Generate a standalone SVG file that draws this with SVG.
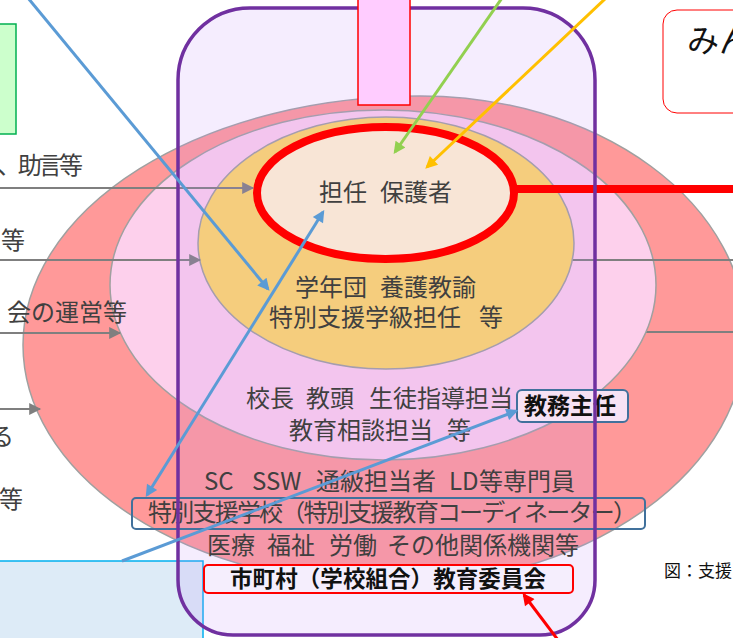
<svg xmlns="http://www.w3.org/2000/svg" width="733" height="638" viewBox="0 0 733 638">
<style>
text{font-family:"Noto Sans CJK JP","Noto Sans",sans-serif;}
.g{fill:#404040;font-size:24px;}
.side{fill:#404040;font-size:24px;}
.b{fill:#111;font-weight:bold;}
.gl{stroke:#7F7F7F;stroke-width:2;fill:none;}
.bl{stroke:#5B9BD5;stroke-width:3;fill:none;}
.ell{stroke:#A0A0A0;stroke-width:1.5;}
</style>
<defs>
<marker id="mg" viewBox="0 0 10 10" refX="9" refY="5" markerUnits="userSpaceOnUse" markerWidth="13" markerHeight="12" orient="auto-start-reverse"><path d="M0,0 L10,5 L0,10 z" fill="#7F7F7F"/></marker>
<marker id="mb" viewBox="0 0 10 10" refX="8" refY="5" markerUnits="userSpaceOnUse" markerWidth="15" markerHeight="12" orient="auto-start-reverse"><path d="M0,0 L10,5 L0,10 z" fill="#5B9BD5"/></marker>
<marker id="mgr" viewBox="0 0 10 10" refX="8" refY="5" markerUnits="userSpaceOnUse" markerWidth="15" markerHeight="12" orient="auto-start-reverse"><path d="M0,0 L10,5 L0,10 z" fill="#92D050"/></marker>
<marker id="mo" viewBox="0 0 10 10" refX="8" refY="5" markerUnits="userSpaceOnUse" markerWidth="15" markerHeight="12" orient="auto-start-reverse"><path d="M0,0 L10,5 L0,10 z" fill="#FFC000"/></marker>
<marker id="mr" viewBox="0 0 10 10" refX="8" refY="5" markerUnits="userSpaceOnUse" markerWidth="15" markerHeight="12" orient="auto-start-reverse"><path d="M0,0 L10,5 L0,10 z" fill="#FF0000"/></marker>
</defs>
<rect width="733" height="638" fill="#FFFFFF"/>

<g id="green-box"><rect x="-2" y="24" width="18" height="110" fill="#CCFFCC" stroke="#00B050" stroke-width="1.5"/></g>
<g id="blue-box"><rect x="-2" y="561" width="205" height="80" fill="#DDEBF7" stroke="#00B0F0" stroke-width="1.5"/></g>

<g id="circles">
<path id="outer" class="ell" d="M23,345 A397,249 0 0 1 420,96 A326,239 0 0 1 746,335 A356,250 0 0 1 390,585 A367,240 0 0 1 23,345 Z" fill="#FF9999"/>
<line class="gl" x1="646" y1="332" x2="740" y2="332"/>
<ellipse id="middle" class="ell" cx="383" cy="285" rx="273" ry="175" fill="#FDD0EC"/>
<line class="gl" x1="572" y1="260" x2="740" y2="260"/>
<ellipse id="inner" class="ell" cx="386" cy="243" rx="188" ry="126" fill="#FFD966"/>
</g>

<g id="grey-arrows">
<line class="gl" x1="-5" y1="188" x2="253" y2="188" marker-end="url(#mg)"/>
<line class="gl" x1="-5" y1="260" x2="200" y2="260" marker-end="url(#mg)"/>
<line class="gl" x1="-5" y1="333" x2="120" y2="333" marker-end="url(#mg)"/>
<line class="gl" x1="-5" y1="409" x2="40" y2="409" marker-end="url(#mg)"/>
</g>

<g id="side-labels">
<text class="side" x="-3" y="174" textLength="86" lengthAdjust="spacing">、助言等</text>
<text class="side" x="1" y="249">等</text>
<text class="side" x="7" y="321" font-size="23">会の運営等</text>
<text class="side" x="-10" y="445">る</text>
<text class="side" x="-1" y="508">等</text>
</g>

<g id="school-frame-fill"><path d="M250,8 H523 A72,72 0 0 1 595,80 V580 A55,55 0 0 1 540,635 H233 A55,55 0 0 1 178,580 V80 A72,72 0 0 1 250,8 Z" fill="#C092F9" fill-opacity="0.16"/></g>

<g id="core">
<line x1="515" y1="189" x2="740" y2="189" stroke="#FF0000" stroke-width="8"/>
<ellipse cx="385.5" cy="193" rx="128.5" ry="66" fill="#F8E5D6" stroke="#FF0000" stroke-width="8"/>
<text class="g" x="319" y="201">担任</text>
<text class="g" x="380" y="201">保護者</text>
</g>

<g id="layer2-text">
<text class="g" x="295" y="296">学年団</text>
<text class="g" x="380" y="296">養護教諭</text>
<text class="g" x="269" y="326">特別支援学級担任</text>
<text class="g" x="479" y="326">等</text>
</g>
<g id="layer3-text">
<text class="g" x="246" y="407">校長</text>
<text class="g" x="306" y="407">教頭</text>
<text class="g" x="369" y="407">生徒指導担当</text>
<text class="g" x="289" y="439">教育相談担当</text>
<text class="g" x="447" y="439">等</text>
</g>
<g id="layer4-text">
<text class="g" x="204" y="490">SC</text>
<text class="g" x="252" y="490">SSW</text>
<text class="g" x="316" y="490">通級担当者</text>
<text class="g" x="449" y="490">LD</text>
<text class="g" x="479" y="490">等専門員</text>
<text class="g" x="207" y="554">医療</text>
<text class="g" x="267" y="554">福祉</text>
<text class="g" x="329" y="554">労働</text>
<text class="g" x="387" y="554">その他関係機関等</text>
</g>

<g id="tokubetsu-box">
<rect x="132" y="498" width="513" height="31" rx="4" fill="none" stroke="#41719C" stroke-width="2"/>
<text class="g" x="148" y="521" font-size="22" textLength="489" lengthAdjust="spacing">特別支援学校（特別支援教育コーディネーター）</text>
</g>

<g id="kyomu-box">
<rect x="517" y="390" width="111" height="32" rx="5" fill="#F7E2F4" stroke="#41719C" stroke-width="2"/>
<text class="b" x="524" y="414" font-size="23">教務主任</text>
</g>

<g id="iinkai-box">
<rect x="204" y="565" width="369" height="28" rx="4" fill="#F5EEFD" stroke="#FF0000" stroke-width="2"/>
<text class="b" x="230" y="587" font-size="22.5" textLength="316" lengthAdjust="spacing">市町村（学校組合）教育委員会</text>
</g>

<g id="school-frame"><path d="M250,8 H523 A72,72 0 0 1 595,80 V580 A55,55 0 0 1 540,635 H233 A55,55 0 0 1 178,580 V80 A72,72 0 0 1 250,8 Z" fill="none" stroke="#7030A0" stroke-width="3.5"/></g>

<g id="top-pink"><rect x="358" y="-2" width="52" height="107" fill="#FFCCFF" stroke="#FF0000" stroke-width="1.5"/></g>

<g id="minna-box">
<rect x="663" y="10" width="90" height="103" rx="14" fill="#FFFFFF" stroke="#FF0000" stroke-width="1"/>
<text x="687" y="52" font-size="32" fill="#111">みん</text>
</g>

<g id="caption"><text x="664" y="577" font-size="17" fill="#111">図：支援</text></g>

<g id="connectors">
<line class="bl" x1="28" y1="-2" x2="268" y2="289" marker-end="url(#mb)"/>
<line class="bl" x1="147" y1="495" x2="323" y2="212" marker-start="url(#mb)" marker-end="url(#mb)"/>
<line class="bl" x1="122" y1="561" x2="516" y2="411" marker-end="url(#mb)"/>
<line x1="502" y1="-2" x2="395" y2="152" stroke="#92D050" stroke-width="3" marker-end="url(#mgr)"/>
<line x1="606" y1="-2" x2="427" y2="167" stroke="#FFC000" stroke-width="3" marker-end="url(#mo)"/>
<line x1="558" y1="640" x2="524" y2="595" stroke="#FF0000" stroke-width="3" marker-end="url(#mr)"/>
</g>
</svg>
